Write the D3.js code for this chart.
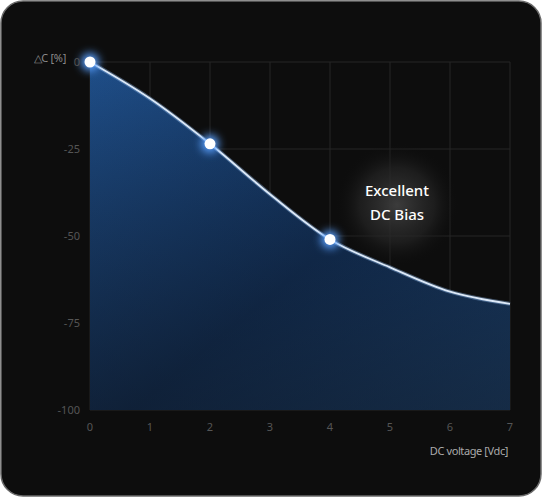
<!DOCTYPE html>
<html><head><meta charset="utf-8">
<script src="https://cdn.jsdelivr.net/npm/d3@7"></script>
<style>body{margin:0;background:#fff;font-family:"Noto Sans",sans-serif}</style>
</head><body><div id="chart"></div>
<script>
var curveX = [0, 1, 2, 3, 4, 5, 6, 7];
var curveY = [0, -10.5, -23.5, -38, -51, -59, -66, -69.5];
var pointX = [0, 2, 4];
var pointY = [0, -23.5, -51];
var xTicks = [0, 1, 2, 3, 4, 5, 6, 7];
var yTicks = [0, -25, -50, -75, -100];

var W = 542, H = 497;
var svg = d3.select("#chart").append("svg").attr("width", W).attr("height", H);
var defs = svg.append("defs");

var fillGrad = defs.append("linearGradient").attr("id", "fillG").attr("x1", 0).attr("y1", 0).attr("x2", 1).attr("y2", 1);
fillGrad.append("stop").attr("offset", "0%").attr("stop-color", "#1f4f8a");
fillGrad.append("stop").attr("offset", "55%").attr("stop-color", "#11305a");
fillGrad.append("stop").attr("offset", "100%").attr("stop-color", "#1c4474");

var fade = defs.append("linearGradient").attr("id", "fadeG").attr("x1", 0).attr("y1", 0).attr("x2", 0).attr("y2", 1);
fade.append("stop").attr("offset", "0%").attr("stop-color", "#0d0d0d").attr("stop-opacity", 0);
fade.append("stop").attr("offset", "100%").attr("stop-color", "#0d0d0d").attr("stop-opacity", 0.45);

var glow = defs.append("radialGradient").attr("id", "glowG");
glow.append("stop").attr("offset", "0%").attr("stop-color", "#3c3c3c").attr("stop-opacity", 1);
glow.append("stop").attr("offset", "60%").attr("stop-color", "#242424").attr("stop-opacity", 0.7);
glow.append("stop").attr("offset", "100%").attr("stop-color", "#0d0d0d").attr("stop-opacity", 0);

var dotGlow = defs.append("filter").attr("id", "dotF").attr("x", "-200%").attr("y", "-200%").attr("width", "500%").attr("height", "500%");
dotGlow.append("feGaussianBlur").attr("stdDeviation", 4);

svg.append("rect").attr("x", 1).attr("y", 1).attr("width", W - 2).attr("height", H - 2)
  .attr("rx", 22).attr("fill", "#0d0d0d").attr("stroke", "#6a6a6a").attr("stroke-width", 1.5);

var x = d3.scaleLinear().domain([0, 7]).range([90, 510]);
var y = d3.scaleLinear().domain([0, -100]).range([62, 410]);

// grid
svg.append("g").selectAll("line").data(xTicks).enter().append("line")
  .attr("x1", d => x(d)).attr("x2", d => x(d)).attr("y1", y(0)).attr("y2", y(-100))
  .attr("stroke", "#262626").attr("stroke-width", 1);
svg.append("g").selectAll("line").data(yTicks).enter().append("line")
  .attr("x1", x(0)).attr("x2", x(7)).attr("y1", d => y(d)).attr("y2", d => y(d))
  .attr("stroke", "#262626").attr("stroke-width", 1);

var data = curveX.map((v, i) => [v, curveY[i]]);
var area = d3.area().x(d => x(d[0])).y0(y(-100)).y1(d => y(d[1])).curve(d3.curveMonotoneX);
var line = d3.line().x(d => x(d[0])).y(d => y(d[1])).curve(d3.curveMonotoneX);

svg.append("path").datum(data).attr("d", area).attr("fill", "url(#fillG)");
svg.append("path").datum(data).attr("d", area).attr("fill", "url(#fadeG)");

svg.append("circle").attr("cx", 397).attr("cy", 205).attr("r", 62).attr("fill", "url(#glowG)");

svg.append("path").datum(data).attr("d", line).attr("fill", "none")
  .attr("stroke", "#8fb8ea").attr("stroke-width", 4).attr("opacity", 0.4);
svg.append("path").datum(data).attr("d", line).attr("fill", "none")
  .attr("stroke", "#dce9f8").attr("stroke-width", 1.8);

var pts = pointX.map((v, i) => [v, pointY[i]]);
svg.append("g").selectAll("circle").data(pts).enter().append("circle")
  .attr("cx", d => x(d[0])).attr("cy", d => y(d[1])).attr("r", 9)
  .attr("fill", "#5aa0ff").attr("filter", "url(#dotF)");
svg.append("g").selectAll("circle").data(pts).enter().append("circle")
  .attr("cx", d => x(d[0])).attr("cy", d => y(d[1])).attr("r", 5.5).attr("fill", "#fff");

// axis labels
svg.append("g").selectAll("text").data(yTicks).enter().append("text")
  .attr("x", 80).attr("y", d => y(d) + 4).attr("text-anchor", "end")
  .attr("font-size", 11).attr("fill", "#555").text(d => d);
svg.append("g").selectAll("text").data(xTicks).enter().append("text")
  .attr("x", d => x(d)).attr("y", 431).attr("text-anchor", "middle")
  .attr("font-size", 11).attr("fill", "#555").text(d => d);

svg.append("text").attr("x", 66).attr("y", 62).attr("text-anchor", "end")
  .attr("font-size", 11).attr("fill", "#8a8a8a").attr("letter-spacing", -0.3).text("△C [%]");
svg.append("text").attr("x", 508).attr("y", 455).attr("text-anchor", "end")
  .attr("font-size", 11).attr("fill", "#aaa").attr("letter-spacing", -0.4).text("DC voltage [Vdc]");

svg.append("text").attr("x", 397).attr("y", 196).attr("text-anchor", "middle")
  .attr("font-size", 15).attr("font-weight", 500).attr("fill", "#fff").text("Excellent");
svg.append("text").attr("x", 397).attr("y", 220).attr("text-anchor", "middle")
  .attr("font-size", 15).attr("font-weight", 500).attr("fill", "#fff").text("DC Bias");
</script></body></html>
